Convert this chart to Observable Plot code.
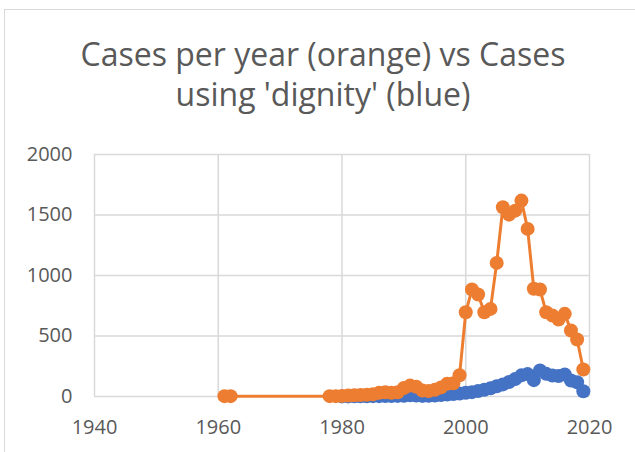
<!DOCTYPE html>
<html>
<head>
<meta charset="utf-8">
<script src="https://cdn.jsdelivr.net/npm/d3@7"></script>
<script src="https://cdn.jsdelivr.net/npm/@observablehq/plot@0.6"></script>
<style>
  html, body { margin: 0; padding: 0; background: #fff; }
  #wrap { position: relative; width: 635px; height: 452px; overflow: hidden; background: #fff; }
  #box { position: absolute; left: 4px; top: 9px; width: 700px; height: 500px;
         border-top: 1.5px solid #d9d9d9; border-left: 1.5px solid #d9d9d9; }
  #title { position: absolute; left: 0; top: 34px; width: 646px; text-align: center;
           font-family: "Open Sans", Lato, sans-serif; font-size: 32px; line-height: 40px;
           color: #595959; font-weight: 400; white-space: nowrap; }
  #chart { position: absolute; left: 0; top: 130px; }
</style>
</head>
<body>
<div id="wrap">
  <div id="box"></div>
  <div id="title">Cases per year (orange) vs Cases<br>using 'dignity' (blue)</div>
  <div id="chart"></div>
</div>
<script>
const xTicks = [1940, 1960, 1980, 2000, 2020];
const yTicks = [0, 500, 1000, 1500, 2000];

const orangeYears = [1961, 1962, 1978, 1979,
  1980, 1981, 1982, 1983, 1984, 1985, 1986, 1987, 1988, 1989,
  1990, 1991, 1992, 1993, 1994, 1995, 1996, 1997, 1998, 1999,
  2000, 2001, 2002, 2003, 2004, 2005, 2006, 2007, 2008, 2009,
  2010, 2011, 2012, 2013, 2014, 2015, 2016, 2017, 2018, 2019];
const orangeCases = [3, 3, 3, 3,
  5, 8, 10, 12, 15, 18, 30, 35, 30, 35,
  70, 90, 80, 50, 45, 55, 75, 105, 110, 176,
  696, 884, 843, 696, 724, 1104, 1564, 1503, 1536, 1619,
  1385, 890, 884, 696, 669, 636, 683, 545, 471, 223];

const blueYears = [
  1980, 1981, 1982, 1983, 1984, 1985, 1986, 1987, 1988, 1989,
  1990, 1991, 1992, 1993, 1994, 1995, 1996, 1997, 1998, 1999,
  2000, 2001, 2002, 2003, 2004, 2005, 2006, 2007, 2008, 2009,
  2010, 2011, 2012, 2013, 2014, 2015, 2016, 2017, 2018, 2019];
const blueCases = [
  1, 1, 2, 2, 2, 3, 3, 4, 4, 5,
  6, 10, 8, 5, 6, 8, 12, 16, 20, 25,
  30, 36, 45, 55, 68, 85, 100, 120, 145, 175,
  185, 135, 215, 187, 173, 170, 182, 132, 118, 44];

const orange = orangeYears.map((y, i) => ({year: y, cases: orangeCases[i]}));
const blue = blueYears.map((y, i) => ({year: y, cases: blueCases[i]}));

const ORANGE = "#ED7D31", BLUE = "#4472C4", GRID = "#d9d9d9", TEXT = "#595959";

const chart = Plot.plot({
  width: 635,
  height: 322,
  marginLeft: 94,
  marginRight: 46,
  marginTop: 24,
  marginBottom: 56,
  style: {fontFamily: "'Open Sans', Lato, sans-serif", fontSize: "20px", color: TEXT, background: "transparent", overflow: "visible"},
  x: {domain: [1940, 2020], label: null},
  y: {domain: [0, 2000], label: null},
  marks: [
    Plot.ruleX(xTicks, {stroke: GRID, strokeWidth: 1.5}),
    Plot.ruleY(yTicks, {stroke: GRID, strokeWidth: 1.5}),
    Plot.axisX({ticks: xTicks, tickSize: 0, tickPadding: 23, tickFormat: d => String(d), fill: TEXT, label: null}),
    Plot.axisY({ticks: yTicks, tickSize: 0, tickPadding: 22, tickFormat: d => String(d), fill: TEXT, label: null}),
    Plot.line(blue, {x: "year", y: "cases", stroke: BLUE, strokeWidth: 3}),
    Plot.dot(blue, {x: "year", y: "cases", r: 7, fill: BLUE, stroke: "none"}),
    Plot.line(orange, {x: "year", y: "cases", stroke: ORANGE, strokeWidth: 3}),
    Plot.dot(orange, {x: "year", y: "cases", r: 7, fill: ORANGE, stroke: "none"})
  ]
});
document.getElementById("chart").appendChild(chart);
</script>
</body>
</html>
